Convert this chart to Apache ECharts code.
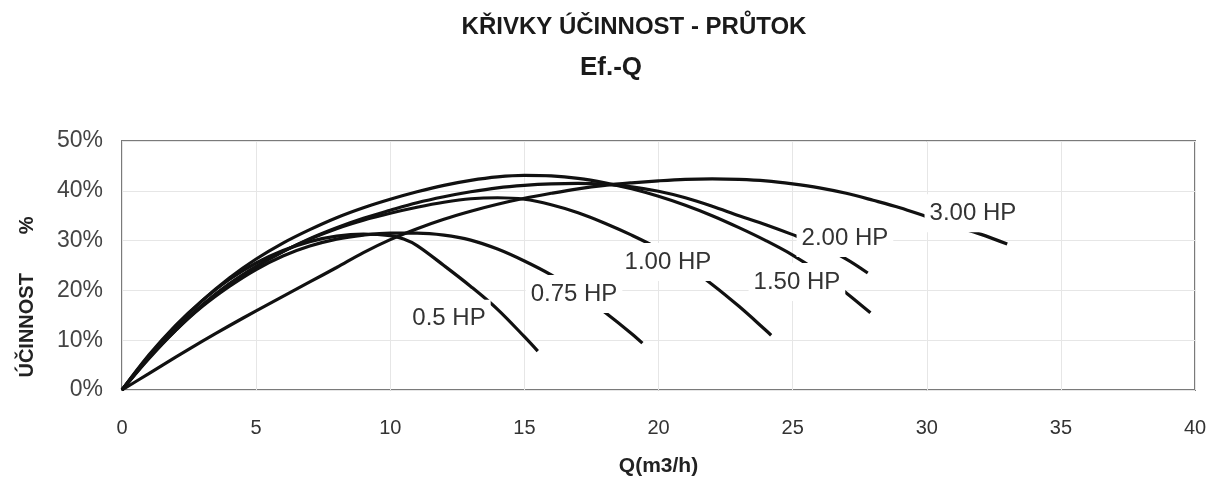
<!DOCTYPE html>
<html>
<head>
<meta charset="utf-8">
<script src="https://cdn.jsdelivr.net/npm/echarts@6/dist/echarts.min.js"></script>
<style>
  html, body { margin: 0; padding: 0; background: #fff; }
  #chart { width: 1222px; height: 483px; }
</style>
</head>
<body>
<div id="chart"></div>
<script>
// ---- data (Q in m3/h, efficiency in %) ----
const titleMain = 'KŘIVKY ÚČINNOST - PRŮTOK';
const titleSub = 'Ef.-Q';
const xAxisName = 'Q(m3/h)';
const yAxisName = 'ÚČINNOST       %';
const xTicks = [0, 5, 10, 15, 20, 25, 30, 35, 40];
const yTicks = [0, 10, 20, 30, 40, 50];

const seriesNames = ['0.5 HP', '0.75 HP', '1.00 HP', '1.50 HP', '2.00 HP', '3.00 HP'];

const hp050 = [[0,0],[1,7],[2,13],[3,18],[4,22.2],[5,25.5],[6,28],[7,29.8],[8,30.9],[9,31.3],[10,31],[10.5,30.3],[11,29],[12,25],[13,20.8],[14,16.2],[15,10.7],[15.5,7.8]];
const hp075 = [[0,0],[1,6.5],[2,12],[3,16.8],[4,20.8],[5,24.2],[6,26.9],[7,28.9],[8,30.3],[9,31.1],[10,31.5],[11,31.5],[12,31.1],[13,30.1],[14,28.3],[15,25.9],[16,23.1],[17,19.6],[18,15.6],[19,11.3],[19.4,9.4]];
const hp100 = [[0,0],[1,6.5],[2,12.2],[3,17.1],[4,21.3],[5,24.8],[6,27.8],[7,30.3],[8,32.4],[9,34.1],[10,35.5],[11,36.7],[12,37.7],[13,38.4],[14,38.6],[15,38.3],[16,37.2],[17,35.6],[18,33.5],[19,31.1],[20,28.4],[21,25.1],[22,21.2],[23,16.8],[24,12],[24.2,11]];
const hp150 = [[0,0],[1,6.8],[2,12.8],[3,18],[4,22.5],[5,26.3],[6,29.5],[7,32.2],[8,34.6],[9,36.6],[10,38.3],[11,39.8],[12,41.1],[13,42.1],[14,42.8],[15,43.1],[16,43],[17,42.5],[18,41.6],[19,40.4],[20,38.9],[21,37.1],[22,35],[23,32.6],[24,30],[25,27.1],[26,23.6],[27,19.5],[27.9,15.5]];
const hp200 = [[0,0],[1,6.3],[2,12],[3,17],[4,21.3],[5,24.8],[6,27.8],[7,30.4],[8,32.6],[9,34.5],[10,36.1],[11,37.6],[12,38.8],[13,39.8],[14,40.6],[15,41.1],[16,41.4],[17,41.5],[18,41.3],[19,40.8],[20,39.9],[21,38.6],[22,36.9],[23,35],[24,33.2],[25,31.2],[26,29],[27,26.3],[27.8,23.5]];
const hp300 = [[0,0],[1,3.3],[2,6.6],[3,9.8],[4,12.9],[5,15.9],[6,18.8],[7,21.7],[8,24.6],[9,27.6],[10,30.2],[11,32.4],[12,34.3],[13,35.9],[14,37.3],[15,38.5],[16,39.5],[17,40.4],[18,41.1],[19,41.6],[20,42],[21,42.3],[22,42.4],[23,42.3],[24,42],[25,41.4],[26,40.6],[27,39.5],[28,38.1],[29,36.6],[30,34.8],[31,33],[32,31.3],[33,29.3]];

// curve label anchors (data coordinates: Q, %)
const labelAnchors = [[12.19,14.3],[16.85,19.3],[20.35,25.7],[25.16,21.7],[26.95,30.5],[31.72,35.5]];

const curves = [hp050, hp075, hp100, hp150, hp200, hp300];

// ---- chart ----
const FONT = "'Liberation Sans', Arial, sans-serif";
const chart = echarts.init(document.getElementById('chart'), null, { renderer: 'canvas' });

const lineSeries = curves.map((d, i) => ({
  name: seriesNames[i],
  type: 'line',
  data: d,
  smooth: 0.35,
  symbol: 'none',
  lineStyle: { color: '#111', width: 3.2 },
  z: 2,
  silent: true
}));

const labelSeries = {
  name: 'labels',
  type: 'scatter',
  data: labelAnchors.map((p, i) => [p[0], p[1], seriesNames[i]]),
  symbolSize: 1,
  itemStyle: { color: 'rgba(255,255,255,0)', opacity: 1 },
  z: 5,
  silent: true,
  label: {
    show: true,
    position: 'inside',
    formatter: p => p.data[2],
    fontFamily: FONT,
    fontSize: 24,
    color: '#333',
    backgroundColor: '#fff',
    opacity: 1,
    padding: [7, 5]
  }
};

chart.setOption({
  backgroundColor: '#fff',
  animation: false,
  title: [
    { text: titleMain, left: 634, top: 15, textAlign: 'center', padding: 0,
      textStyle: { fontFamily: FONT, fontSize: 24, fontWeight: 'bold', color: '#1a1a1a' } },
    { text: titleSub, left: 611, top: 55, textAlign: 'center', padding: 0,
      textStyle: { fontFamily: FONT, fontSize: 26, fontWeight: 'bold', color: '#1a1a1a' } }
  ],
  grid: { left: 122, right: 27, top: 141, bottom: 93, show: true, borderColor: '#7a7a7a', borderWidth: 2, backgroundColor: 'transparent' },
  xAxis: {
    type: 'value',
    min: xTicks[0], max: xTicks[xTicks.length - 1], interval: 5,
    name: xAxisName, nameLocation: 'middle', nameGap: 66,
    nameTextStyle: { fontFamily: FONT, fontSize: 21, fontWeight: 'bold', color: '#222' },
    axisLine: { show: false },
    axisTick: { show: false },
    axisLabel: { fontFamily: FONT, fontSize: 20, color: '#333', margin: 28 },
    splitLine: { show: true, lineStyle: { color: '#e6e6e6', width: 1 } }
  },
  yAxis: {
    type: 'value',
    min: yTicks[0], max: yTicks[yTicks.length - 1], interval: 10,
    axisLine: { show: false },
    axisTick: { show: false },
    axisLabel: { fontFamily: FONT, fontSize: 23, color: '#444', margin: 19, formatter: '{value}%' },
    splitLine: { show: true, lineStyle: { color: '#e6e6e6', width: 1 } }
  },
  graphic: [{
    type: 'text',
    x: 27, y: 297,
    rotation: Math.PI / 2,
    silent: true,
    style: {
      text: yAxisName,
      font: "bold 20px 'Liberation Sans', Arial, sans-serif",
      fill: '#222',
      textAlign: 'center',
      textVerticalAlign: 'middle'
    }
  }],
  series: lineSeries.concat([labelSeries])
});
</script>
</body>
</html>
